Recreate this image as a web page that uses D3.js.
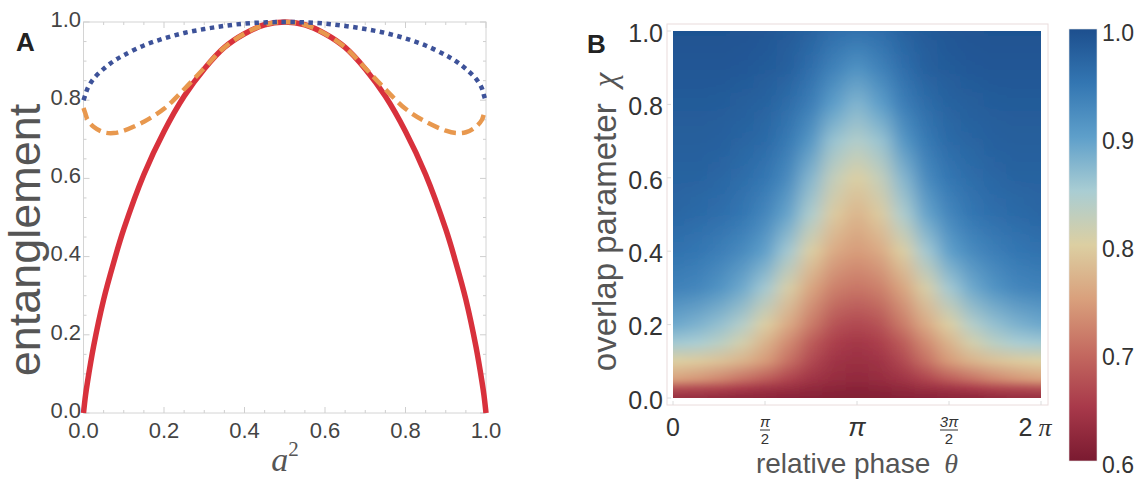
<!DOCTYPE html>
<html>
<head>
<meta charset="utf-8">
<script src="https://cdn.jsdelivr.net/npm/d3@7"></script>
<style>
  body { margin: 0; background: #fff; }
  text { font-family: "Liberation Sans", Arial, sans-serif; }
</style>
</head>
<body>
<svg width="1137" height="481"></svg>
<script>
// ---- panel A data ----
var a2 =      [0, 0.005, 0.01, 0.025, 0.05, 0.075, 0.1, 0.15, 0.2, 0.25, 0.3, 0.35, 0.4, 0.45, 0.5,
               0.55, 0.6, 0.65, 0.7, 0.75, 0.8, 0.85, 0.9, 0.925, 0.95, 0.975, 0.99, 0.995, 1];
var redVals = [0, 0.045, 0.08, 0.17, 0.29, 0.385, 0.47, 0.61, 0.72, 0.81, 0.88, 0.935, 0.97, 0.993, 1,
               0.993, 0.97, 0.935, 0.88, 0.81, 0.72, 0.61, 0.47, 0.385, 0.29, 0.17, 0.08, 0.045, 0];
var orangeVals = [0.78, 0.765, 0.75, 0.732, 0.718, 0.716, 0.722, 0.745, 0.778, 0.828, 0.882, 0.935, 0.97, 0.993, 1,
               0.993, 0.97, 0.935, 0.882, 0.828, 0.778, 0.745, 0.722, 0.716, 0.718, 0.732, 0.75, 0.765, 0.775];
var blueVals = [0.80, 0.815, 0.83, 0.855, 0.88, 0.90, 0.915, 0.94, 0.958, 0.972, 0.982, 0.99, 0.996, 0.999, 1,
               0.999, 0.996, 0.99, 0.982, 0.972, 0.958, 0.94, 0.915, 0.90, 0.88, 0.855, 0.83, 0.812, 0.795];
var aTicks = [0, 0.2, 0.4, 0.6, 0.8, 1.0];

// ---- panel B data: theta in units of pi (0..pi, mirrored about pi), chi rows ----
var thetaHalf = [0, 0.125, 0.25, 0.375, 0.5, 0.625, 0.75, 0.875, 1];
var chiRows = [0, 0.025, 0.05, 0.1, 0.15, 0.2, 0.3, 0.4, 0.5, 0.6, 0.7, 0.8, 0.9, 1.0];
var entHalf = [
  [0.63, 0.63, 0.625, 0.62, 0.62, 0.615, 0.615, 0.61, 0.61],
  [0.67, 0.665, 0.66, 0.65, 0.64, 0.635, 0.625, 0.62, 0.615],
  [0.75, 0.74, 0.725, 0.705, 0.685, 0.66, 0.64, 0.63, 0.625],
  [0.80, 0.795, 0.785, 0.77, 0.745, 0.705, 0.665, 0.64, 0.635],
  [0.855, 0.85, 0.835, 0.81, 0.77, 0.73, 0.685, 0.655, 0.645],
  [0.89, 0.88, 0.865, 0.84, 0.80, 0.76, 0.715, 0.675, 0.665],
  [0.935, 0.93, 0.915, 0.89, 0.855, 0.805, 0.755, 0.72, 0.71],
  [0.955, 0.95, 0.94, 0.925, 0.90, 0.855, 0.80, 0.76, 0.745],
  [0.97, 0.965, 0.96, 0.95, 0.93, 0.895, 0.845, 0.795, 0.77],
  [0.975, 0.975, 0.97, 0.962, 0.95, 0.925, 0.875, 0.825, 0.80],
  [0.98, 0.98, 0.978, 0.972, 0.965, 0.945, 0.91, 0.86, 0.84],
  [0.985, 0.985, 0.983, 0.98, 0.975, 0.962, 0.94, 0.90, 0.875],
  [0.99, 0.99, 0.99, 0.988, 0.985, 0.978, 0.96, 0.935, 0.915],
  [0.995, 0.995, 0.995, 0.993, 0.99, 0.985, 0.975, 0.96, 0.955]
];
var bYTicks = [0, 0.2, 0.4, 0.6, 0.8, 1.0];
var cbStops  = [0.6, 0.65, 0.7, 0.75, 0.8, 0.85, 0.9, 0.95, 1.0];
var cbColors = ['#7a1a30', '#a8394a', '#c46a60', '#d9a07c', '#dccfa2', '#a9cdd3', '#5e9fca', '#3376b2', '#1d4f8e'];
var cbTicks = [0.6, 0.7, 0.8, 0.9, 1.0];

var svg = d3.select('svg');
var defs = svg.append('defs');
var serif = '"Liberation Serif", serif';

// ================= panel A =================
var xA = d3.scaleLinear().domain([0, 1]).range([83.5, 486]);
var yA = d3.scaleLinear().domain([0, 1]).range([413, 22]);
var gA = svg.append('g');

gA.append('rect').attr('x', xA(0)).attr('y', yA(1))
  .attr('width', xA(1) - xA(0)).attr('height', yA(0) - yA(1))
  .attr('fill', 'none').attr('stroke', '#d4d4d4').attr('stroke-width', 1);

d3.range(0, 1.0001, 0.05).forEach(function(t) {
  var major = Math.abs(t * 5 - Math.round(t * 5)) < 1e-6;
  var len = major ? 6 : 3;
  gA.append('line').attr('x1', xA(t)).attr('x2', xA(t)).attr('y1', yA(0)).attr('y2', yA(0) - len).attr('stroke', '#cfcfcf');
  gA.append('line').attr('x1', xA(t)).attr('x2', xA(t)).attr('y1', yA(1)).attr('y2', yA(1) + len).attr('stroke', '#cfcfcf');
  gA.append('line').attr('y1', yA(t)).attr('y2', yA(t)).attr('x1', xA(0)).attr('x2', xA(0) + len).attr('stroke', '#cfcfcf');
  gA.append('line').attr('y1', yA(t)).attr('y2', yA(t)).attr('x1', xA(1)).attr('x2', xA(1) - len).attr('stroke', '#cfcfcf');
});

gA.selectAll('.ytA').data(aTicks).enter().append('text')
  .attr('x', 81).attr('y', function(d) { return yA(d) - 3; })
  .attr('dy', '0.35em').attr('text-anchor', 'end')
  .attr('font-size', 22).attr('fill', '#444')
  .text(function(d) { return d.toFixed(1); });

gA.selectAll('.xtA').data(aTicks).enter().append('text')
  .attr('x', function(d) { return xA(d); }).attr('y', 438)
  .attr('text-anchor', 'middle')
  .attr('font-size', 22).attr('fill', '#444')
  .text(function(d) { return d.toFixed(1); });

var lineA = function(vals) {
  return d3.line()
    .x(function(d, i) { return xA(a2[i]); })
    .y(function(d) { return yA(d); })
    .curve(d3.curveCatmullRom.alpha(0.5))(vals);
};

gA.append('path').attr('d', lineA(redVals)).attr('fill', 'none')
  .attr('stroke', '#d8313c').attr('stroke-width', 5.5);
gA.append('path').attr('d', lineA(orangeVals)).attr('fill', 'none')
  .attr('stroke', '#e8984e').attr('stroke-width', 4.5).attr('stroke-dasharray', '12,6');
gA.append('path').attr('d', lineA(blueVals)).attr('fill', 'none')
  .attr('stroke', '#3d5299').attr('stroke-width', 4.5).attr('stroke-dasharray', '4.5,4.5');

gA.append('text').attr('x', 16).attr('y', 51).attr('font-size', 26)
  .attr('font-weight', 'bold').attr('fill', '#222').text('A');

gA.append('text').attr('transform', 'translate(40,240) rotate(-90)')
  .attr('text-anchor', 'middle').attr('font-size', 45).attr('fill', '#555')
  .text('entanglement');

var aLab = gA.append('text').attr('x', 285).attr('y', 471).attr('text-anchor', 'middle')
  .attr('fill', '#555');
aLab.append('tspan').attr('font-family', serif).attr('font-style', 'italic')
  .attr('font-size', 34).text('a');
aLab.append('tspan').attr('font-family', serif).attr('font-size', 21)
  .attr('dy', -15).text('2');

// ================= panel B =================
var xB = d3.scaleLinear().domain([0, 2]).range([673, 1041]);
var yB = d3.scaleLinear().domain([0, 1]).range([398, 31]);
var color = d3.scaleLinear().domain(cbStops).range(cbColors).interpolate(d3.interpolateRgb).clamp(true);

// full set of columns: mirror the 0..pi half about pi
var thetaAll = thetaHalf.concat(thetaHalf.slice(0, -1).reverse().map(function(t) { return 2 - t; }));
var columns = thetaAll.map(function(th, c) {
  var hc = c < thetaHalf.length ? c : thetaAll.length - 1 - c;
  var x0 = c === 0 ? xB(0) - 30 : (xB(thetaAll[c - 1]) + xB(th)) / 2;
  var x1 = c === thetaAll.length - 1 ? xB(2) + 30 : (xB(thetaAll[c + 1]) + xB(th)) / 2;
  return { c: c, x0: x0, x1: x1, vals: entHalf.map(function(row) { return row[hc]; }) };
});

columns.forEach(function(col) {
  var g = defs.append('linearGradient').attr('id', 'col' + col.c)
    .attr('gradientUnits', 'userSpaceOnUse')
    .attr('x1', 0).attr('x2', 0).attr('y1', yB(0)).attr('y2', yB(1));
  chiRows.forEach(function(chi, r) {
    g.append('stop').attr('offset', chi).attr('stop-color', color(col.vals[r]));
  });
});

defs.append('clipPath').attr('id', 'clipB').append('rect')
  .attr('x', xB(0)).attr('y', yB(1)).attr('width', xB(2) - xB(0)).attr('height', yB(0) - yB(1));
defs.append('filter').attr('id', 'soft').attr('x', '-10%').attr('y', '-10%').attr('width', '120%').attr('height', '120%')
  .append('feGaussianBlur').attr('stdDeviation', '9 2');

var gB = svg.append('g');
gB.append('rect').attr('x', 667).attr('y', 24).attr('width', 381).attr('height', 381)
  .attr('fill', 'none').attr('stroke', '#eadcdc').attr('stroke-width', 1);

gB.append('g').attr('clip-path', 'url(#clipB)')
  .append('g').attr('filter', 'url(#soft)')
  .selectAll('rect').data(columns).enter().append('rect')
  .attr('x', function(d) { return d.x0; }).attr('y', yB(1) - 30)
  .attr('width', function(d) { return d.x1 - d.x0 + 0.5; })
  .attr('height', yB(0) - yB(1) + 60)
  .attr('fill', function(d) { return 'url(#col' + d.c + ')'; });

// frame ticks
[0, 0.5, 1, 1.5, 2].forEach(function(t) {
  gB.append('line').attr('x1', xB(t)).attr('x2', xB(t)).attr('y1', 405).attr('y2', 401).attr('stroke', '#dcdcdc');
});
bYTicks.forEach(function(t) {
  gB.append('line').attr('y1', yB(t)).attr('y2', yB(t)).attr('x1', 667).attr('x2', 671).attr('stroke', '#dcdcdc');
});

gB.selectAll('.ytB').data(bYTicks).enter().append('text')
  .attr('x', 663).attr('y', function(d) { return yB(d) + 2; })
  .attr('dy', '0.35em').attr('text-anchor', 'end')
  .attr('font-size', 25).attr('fill', '#333')
  .text(function(d) { return d.toFixed(1); });

// x tick labels for theta
gB.append('text').attr('x', xB(0)).attr('y', 436).attr('text-anchor', 'middle')
  .attr('font-size', 25).attr('fill', '#333').text('0');
gB.append('text').attr('x', xB(1)).attr('y', 436).attr('text-anchor', 'middle')
  .attr('font-family', serif).attr('font-style', 'italic').attr('font-size', 26).attr('fill', '#333').text('π');
var t2 = gB.append('text').attr('x', xB(2) - 6).attr('y', 436).attr('text-anchor', 'middle')
  .attr('font-size', 25).attr('fill', '#333');
t2.append('tspan').text('2');
t2.append('tspan').attr('dx', 6).attr('font-family', serif).attr('font-style', 'italic').attr('font-size', 26).text('π');

[{ t: 0.5, num: 'π' }, { t: 1.5, num: '3π' }].forEach(function(f) {
  var cx = xB(f.t);
  gB.append('text').attr('x', cx).attr('y', 427).attr('text-anchor', 'middle')
    .attr('font-family', serif).attr('font-style', 'italic').attr('font-size', 15).attr('fill', '#333').text(f.num);
  var hw = f.num.length > 1 ? 9 : 5;
  gB.append('line').attr('x1', cx - hw).attr('x2', cx + hw).attr('y1', 430).attr('y2', 430)
    .attr('stroke', '#333').attr('stroke-width', 1);
  gB.append('text').attr('x', cx).attr('y', 444).attr('text-anchor', 'middle')
    .attr('font-size', 15).attr('fill', '#333').text('2');
});

var xLabB = gB.append('text').attr('x', 857).attr('y', 473).attr('text-anchor', 'middle')
  .attr('font-size', 28).attr('fill', '#555');
xLabB.append('tspan').text('relative phase');
xLabB.append('tspan').attr('dx', 14).attr('font-family', serif).attr('font-style', 'italic').text('θ');

var yLabB = gB.append('text').attr('transform', 'translate(616,222) rotate(-90)')
  .attr('text-anchor', 'middle').attr('font-size', 33).attr('fill', '#555');
yLabB.append('tspan').text('overlap parameter');
yLabB.append('tspan').attr('dx', 16).attr('font-family', serif).attr('font-style', 'italic').text('χ');

gB.append('text').attr('x', 587).attr('y', 53).attr('font-size', 26)
  .attr('font-weight', 'bold').attr('fill', '#222').text('B');

// ================= colour bar =================
var cbY = d3.scaleLinear().domain([0.6, 1]).range([461, 29]);
var grad = defs.append('linearGradient').attr('id', 'cbGrad')
  .attr('gradientUnits', 'userSpaceOnUse')
  .attr('x1', 0).attr('x2', 0).attr('y1', cbY(0.6)).attr('y2', cbY(1));
cbStops.forEach(function(s, i) {
  grad.append('stop').attr('offset', (s - 0.6) / 0.4).attr('stop-color', cbColors[i]);
});
svg.append('rect').attr('x', 1069).attr('y', cbY(1)).attr('width', 28).attr('height', cbY(0.6) - cbY(1))
  .attr('fill', 'url(#cbGrad)').attr('stroke', '#e4e4e4').attr('stroke-width', 0.6);
svg.selectAll('.cbt').data(cbTicks).enter().append('text')
  .attr('x', 1102).attr('y', function(d) { return cbY(d) + 4; })
  .attr('dy', '0.35em').attr('font-size', 23).attr('fill', '#333')
  .text(function(d) { return d.toFixed(1); });
</script>
</body>
</html>
